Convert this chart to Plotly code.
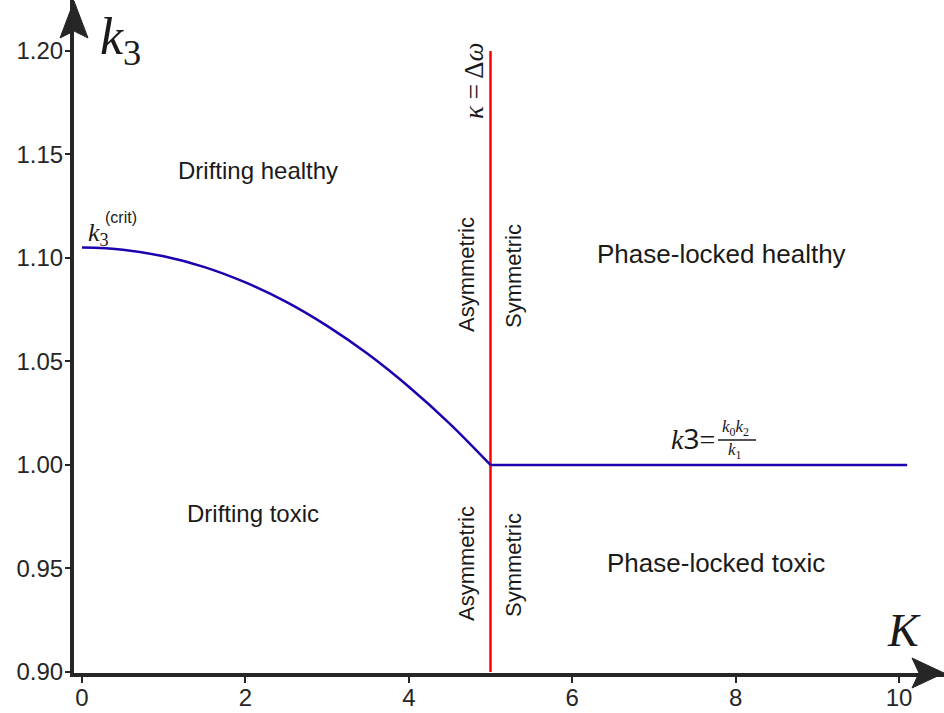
import plotly.graph_objects as go

# ---- data ----
K_drift = [0.0, 0.5, 1.0, 1.5, 2.0, 2.5, 3.0, 3.5, 4.0, 4.5, 5.0]
k3_drift = [1.1050, 1.1040, 1.1008, 1.0956, 1.0882, 1.0788, 1.0672, 1.0536, 1.0378, 1.0200, 1.0000]
K_locked = [5.0, 10.1]
k3_locked = [1.0, 1.0]
K_boundary = [5.0, 5.0]
k3_boundary = [0.90, 1.20]
x_ticks = [0, 2, 4, 6, 8, 10]
y_ticks = [0.90, 0.95, 1.00, 1.05, 1.10, 1.15, 1.20]

W, H = 944, 713
ML, MR, MT, MB = 74, 0, 0, 40
PW, PH = W - ML - MR, H - MT - MB


def px(x):
    return (x - ML) / PW


def py(y):
    return (H - MB - y) / PH


fig = go.Figure()
fig.add_trace(go.Scatter(x=K_boundary, y=k3_boundary, mode="lines",
                         line=dict(color="#ff0000", width=2.5), hoverinfo="skip"))
fig.add_trace(go.Scatter(x=K_drift, y=k3_drift, mode="lines", line_shape="spline",
                         line=dict(color="#1c00b0", width=2.5), hoverinfo="skip"))
fig.add_trace(go.Scatter(x=K_locked, y=k3_locked, mode="lines",
                         line=dict(color="#1c00b0", width=2.5), hoverinfo="skip"))

axcol = "#262626"
tickfont = dict(family="Liberation Sans, Arial, sans-serif", size=24, color="#262626")
fig.update_xaxes(range=[-0.098, 10.551], tickvals=x_ticks, ticktext=[str(v) for v in x_ticks],
                 showgrid=False, zeroline=False, showline=True, linecolor=axcol, linewidth=4,
                 ticks="outside", ticklen=6, tickwidth=1.5, tickcolor=axcol, tickfont=tickfont,
                 ticklabelstandoff=-6, automargin=False)
fig.update_yaxes(range=[0.8995, 0.8995 + PH / 2070], tickvals=y_ticks,
                 ticktext=["%.2f" % v for v in y_ticks],
                 showgrid=False, zeroline=False, showline=True, linecolor=axcol, linewidth=4,
                 ticks="outside", ticklen=5, tickwidth=1.5, tickcolor=axcol, tickfont=tickfont,
                 ticklabelstandoff=-3, automargin=False)


def tri_y():
    return "M {} {} L {} {} L {} {} L {} {} Z".format(
        px(74), py(1), px(88), py(38), px(74), py(31), px(60), py(38))


def tri_x():
    return "M {} {} L {} {} L {} {} L {} {} Z".format(
        px(944), py(673), px(912), py(688), px(919), py(673), px(912), py(658))


fig.add_shape(type="path", path=tri_y(), xref="paper", yref="paper",
              fillcolor=axcol, line=dict(color=axcol, width=1), layer="above")
fig.add_shape(type="path", path=tri_x(), xref="paper", yref="paper",
              fillcolor=axcol, line=dict(color=axcol, width=1), layer="above")

sans = "Liberation Sans, Arial, sans-serif"
serif = "Liberation Serif, Times New Roman, serif"


def ann(text, x, y, size, family=sans, angle=0, color="#1a1a1a"):
    fig.add_annotation(text=text, x=px(x), y=py(y), xref="paper", yref="paper",
                       showarrow=False, xanchor="center", yanchor="middle",
                       textangle=angle, font=dict(family=family, size=size, color=color))


ann("Drifting healthy", 258, 170, 24)
ann("Drifting toxic", 253, 513, 24)
ann("Phase-locked healthy", 721, 254, 26)
ann("Phase-locked toxic", 716, 563, 26)
ann("Asymmetric", 466, 275, 22, angle=-90)
ann("Symmetric", 513, 276, 22, angle=-90)
ann("Asymmetric", 466, 564, 22, angle=-90)
ann("Symmetric", 513, 565, 22, angle=-90)
ann("<i>κ</i> = Δ<i>ω</i>", 474, 81, 27, family=serif, angle=-90)

ann("<i>k</i><sub>3</sub>", 120, 40, 52, family=serif)
ann("<i>K</i>", 904, 630, 46, family=serif)

ann("<i>k</i><sub>3</sub>", 98, 234, 26, family=serif)
ann("(crit)", 121, 218, 16)

ann("<i>k</i><span style='font-family:Noto Sans'>3</span>=", 693, 438, 28, family=serif)
ann("<i>k</i><sub>0</sub><i>k</i><sub>2</sub>", 735, 428, 17, family=serif)
ann("<i>k</i><sub>1</sub>", 735, 451, 17, family=serif)
fig.add_shape(type="line", xref="paper", yref="paper",
              x0=px(718), x1=px(756), y0=py(440), y1=py(440),
              line=dict(color="#1a1a1a", width=1.5))

fig.update_layout(width=W, height=H, margin=dict(l=ML, r=MR, t=MT, b=MB, autoexpand=False),
                  plot_bgcolor="white", paper_bgcolor="white", showlegend=False)

fig.write_html("out.html", config={"displayModeBar": False},
               post_script="document.body.style.margin='0';")
